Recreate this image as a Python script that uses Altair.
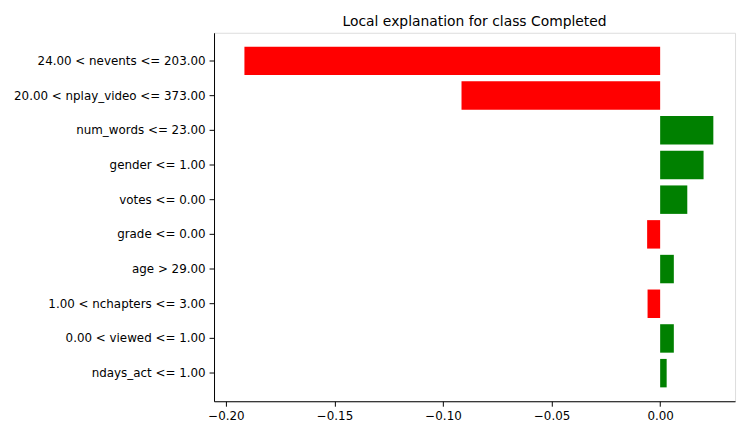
import altair as alt
import pandas as pd

features = ["24.00 < nevents <= 203.00", "20.00 < nplay_video <= 373.00",
            "num_words <= 23.00", "gender <= 1.00", "votes <= 0.00",
            "grade <= 0.00", "age > 29.00", "1.00 < nchapters <= 3.00",
            "0.00 < viewed <= 1.00", "ndays_act <= 1.00"]
weights = [-0.1915, -0.0915, 0.0245, 0.020, 0.0125,
           -0.006, 0.0063, -0.0058, 0.0063, 0.003]

df = pd.DataFrame({"feature": features, "weight": weights})
df["sign"] = ["pos" if w > 0 else "neg" for w in weights]

chart = (alt.Chart(df)
    .mark_bar()
    .encode(
        x=alt.X("weight:Q", title=None,
                scale=alt.Scale(domain=[-0.2055, 0.0345], nice=False, zero=False),
                axis=alt.Axis(values=[-0.20, -0.15, -0.10, -0.05, 0.00], format=".2f",
                              grid=False, tickColor="black", domainColor="black",
                              labelFontSize=12, labelColor="black", labelPadding=4)),
        y=alt.Y("feature:N", title=None, sort=features,
                scale=alt.Scale(paddingInner=0.18, paddingOuter=0.4),
                axis=alt.Axis(grid=False, tickColor="black", domainColor="black",
                              labelFontSize=12, labelColor="black", labelPadding=4,
                              labelLimit=300)),
        color=alt.Color("sign:N", legend=None,
                        scale=alt.Scale(domain=["pos", "neg"], range=["green", "red"])))
    .properties(width=526, height=372,
                title=alt.Title("Local explanation for class Completed", fontSize=14,
                                fontWeight="normal", color="black"))
    .configure_view(stroke="black", strokeWidth=1)
    .configure(font="DejaVu Sans"))

chart.save("out.html", embed_options={"renderer": "svg", "actions": False})
